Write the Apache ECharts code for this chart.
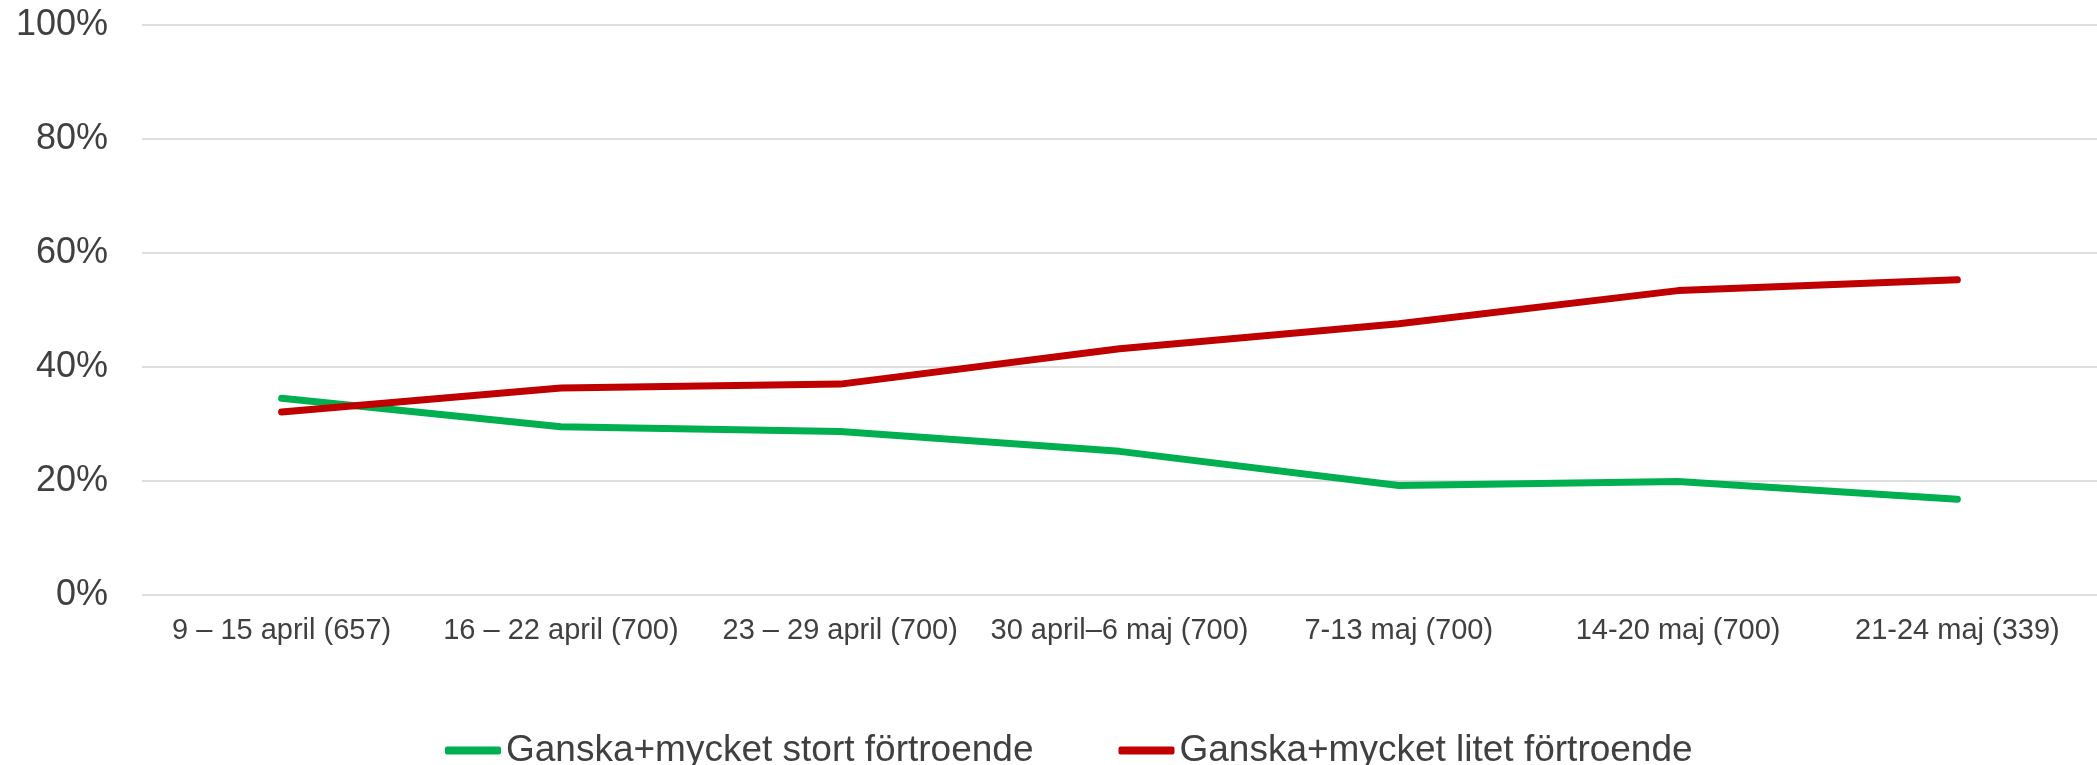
<!DOCTYPE html>
<html>
<head>
<meta charset="utf-8">
<title>Förtroende</title>
<script src="https://cdn.jsdelivr.net/npm/echarts@6/dist/echarts.min.js"></script>
<style>
    html, body { margin: 0; padding: 0; background: #fff; }
    #chart { width: 2097px; height: 765px; }
</style>
</head>
<body>
<div id="chart"></div>
<script>
// veckor (antal svar)
const weeks = [
    "9 – 15 april (657)",
    "16 – 22 april (700)",
    "23 – 29 april (700)",
    "30 april–6 maj (700)",
    "7-13 maj (700)",
    "14-20 maj (700)",
    "21-24 maj (339)"
];
const stortNamn = "Ganska+mycket stort förtroende";
const litetNamn = "Ganska+mycket litet förtroende";
const stort = [34.5, 29.5, 28.7, 25.2, 19.2, 19.9, 16.8];
const litet = [32.1, 36.3, 37.0, 43.2, 47.6, 53.4, 55.3];
const yTicks = [0, 20, 40, 60, 80, 100];

const font = "'Liberation Sans', Arial, sans-serif";
const myChart = echarts.init(document.getElementById("chart"));

let option = {
    backgroundColor: "#fff",
    animation: false,
    textStyle: { fontFamily: font },
    grid: {
        left: 142,
        right: 0,
        top: 25,
        bottom: 170
    },
    legend: {
        left: 440,
        top: 727,
        icon: "roundRect",
        itemWidth: 56,
        itemHeight: 8,
        itemGap: 85,
        textStyle: { fontSize: 37, color: "#404040", fontFamily: font },
        data: [stortNamn, litetNamn]
    },
    xAxis: {
        type: "category",
        data: weeks,
        axisTick: { show: false },
        axisLine: { show: false },
        axisLabel: {
            interval: 0,
            margin: 21,
            fontSize: 29,
            color: "#404040",
            fontFamily: font
        }
    },
    yAxis: {
        type: "value",
        min: yTicks[0],
        max: yTicks[yTicks.length - 1],
        interval: yTicks[1] - yTicks[0],
        axisLine: { show: false },
        axisTick: { show: false },
        axisLabel: {
            margin: 34,
            fontSize: 36,
            color: "#404040",
            fontFamily: font,
            formatter: "{value}%"
        },
        splitLine: {
            lineStyle: { color: "#DEDEDE", width: 2 }
        }
    },
    series: [
        {
            name: stortNamn,
            type: "line",
            data: stort,
            showSymbol: false,
            symbol: "none",
            itemStyle: { color: "#00B050" },
            lineStyle: { color: "#00B050", width: 7, cap: "round", join: "round" }
        },
        {
            name: litetNamn,
            type: "line",
            data: litet,
            showSymbol: false,
            symbol: "none",
            itemStyle: { color: "#C00000" },
            lineStyle: { color: "#C00000", width: 7, cap: "round", join: "round" }
        }
    ]
};
myChart.setOption(option);
</script>
</body>
</html>
